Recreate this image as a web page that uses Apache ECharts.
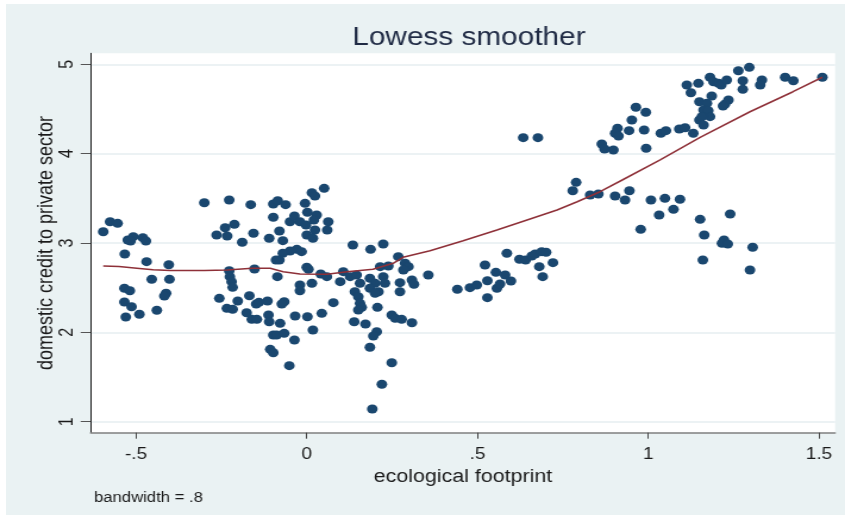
<!DOCTYPE html>
<html>
<head>
<meta charset="utf-8">
<title>Lowess smoother</title>
<script src="https://cdn.jsdelivr.net/npm/echarts@6/dist/echarts.min.js"></script>
<style>
  html, body { margin: 0; padding: 0; background: #ffffff; overflow: hidden; }
  #frame { position: relative; width: 845px; height: 521px; overflow: hidden; background: #ffffff; }
  /* graph region tint */
  #region { position: absolute; left: 6px; top: 4px; width: 839px; height: 511px; background: #eaf2f3; }
  /* the graph is drawn at Stata's aspect and widened to the page */
  #chart { position: absolute; left: 0; top: 0; width: 710px; height: 521px;
           transform: scaleX(1.19014); transform-origin: 0 0; }
</style>
</head>
<body>
<div id="frame">
  <div id="region"></div>
  <div id="chart"></div>
</div>
<script>
// ecological footprint (x) vs domestic credit to private sector (y)
const scatterPoints = [
  [-0.576, 3.238], [-0.554, 3.220], [-0.596, 3.126], [-0.524, 3.034], [-0.508, 3.071],
  [-0.516, 3.022], [-0.480, 3.059], [-0.471, 3.022], [-0.533, 2.877], [-0.469, 2.791],
  [-0.404, 2.757], [-0.454, 2.594], [-0.402, 2.594], [-0.534, 2.493], [-0.518, 2.466],
  [-0.412, 2.437], [-0.417, 2.407], [-0.534, 2.340], [-0.513, 2.287], [-0.530, 2.172],
  [-0.490, 2.202], [-0.439, 2.247],

  [-0.300, 3.451], [-0.227, 3.481], [-0.164, 3.429], [-0.098, 3.436], [-0.085, 3.473],
  [-0.062, 3.429], [-0.098, 3.288], [-0.049, 3.238], [-0.036, 3.302], [-0.020, 3.238],
  [-0.005, 3.444], [0.015, 3.563], [0.024, 3.526], [0.051, 3.612], [0.002, 3.344],
  [0.029, 3.313], [0.021, 3.257], [0.063, 3.238], [-0.002, 3.201], [0.024, 3.145],
  [0.060, 3.145], [0.000, 3.090], [0.018, 3.053], [-0.264, 3.090], [-0.212, 3.209],
  [-0.239, 3.171], [-0.233, 3.078], [-0.156, 3.109], [-0.189, 3.008], [-0.110, 3.053],
  [-0.080, 3.134], [-0.070, 3.026], [-0.029, 2.929], [-0.015, 2.903], [-0.049, 2.910],
  [-0.070, 2.885], [-0.080, 2.810], [-0.090, 2.810], [0.000, 2.728], [0.005, 2.706],
  [-0.227, 2.690], [-0.225, 2.623], [-0.220, 2.567], [-0.217, 2.504], [-0.153, 2.709],
  [-0.086, 2.623], [-0.020, 2.530], [-0.020, 2.466], [0.015, 2.549], [0.041, 2.653],
  [0.059, 2.623], [-0.256, 2.381], [-0.202, 2.351], [-0.168, 2.410], [-0.148, 2.317],
  [-0.140, 2.336], [-0.115, 2.351], [-0.066, 2.343], [-0.073, 2.317], [-0.234, 2.269],
  [-0.217, 2.258], [-0.176, 2.220], [-0.161, 2.146], [-0.146, 2.146], [-0.112, 2.194],
  [-0.110, 2.119], [-0.078, 2.101], [-0.034, 2.183], [0.002, 2.175], [0.044, 2.213],
  [0.018, 2.026], [-0.098, 1.970], [-0.088, 1.970], [-0.066, 1.989], [-0.036, 1.914],
  [-0.107, 1.810], [-0.098, 1.772], [-0.051, 1.627],

  [0.135, 2.978], [0.187, 2.929], [0.224, 2.989], [0.107, 2.679], [0.098, 2.567],
  [0.127, 2.623], [0.146, 2.642], [0.156, 2.549], [0.185, 2.605], [0.215, 2.735],
  [0.239, 2.743], [0.268, 2.847], [0.288, 2.773], [0.298, 2.735], [0.283, 2.698],
  [0.224, 2.623], [0.229, 2.549], [0.200, 2.549], [0.185, 2.493], [0.210, 2.455],
  [0.200, 2.437], [0.141, 2.455], [0.151, 2.399], [0.156, 2.325], [0.161, 2.280],
  [0.151, 2.250], [0.273, 2.556], [0.273, 2.455], [0.308, 2.586], [0.314, 2.538],
  [0.078, 2.332], [0.207, 2.280], [0.249, 2.194], [0.259, 2.157], [0.278, 2.146],
  [0.308, 2.108], [0.139, 2.119], [0.172, 2.093], [0.205, 2.007], [0.195, 1.959],
  [0.185, 1.833], [0.249, 1.660], [0.220, 1.419], [0.192, 1.142], [0.356, 2.642],

  [0.634, 4.179], [0.677, 4.179], [0.789, 3.679], [0.779, 3.585], [0.830, 3.537],
  [0.854, 3.548], [0.441, 2.482], [0.478, 2.500], [0.498, 2.530], [0.529, 2.388],
  [0.529, 2.578], [0.522, 2.754], [0.554, 2.672], [0.557, 2.493], [0.566, 2.541],
  [0.581, 2.642], [0.598, 2.575], [0.586, 2.885], [0.623, 2.818], [0.641, 2.810],
  [0.659, 2.854], [0.669, 2.877], [0.688, 2.903], [0.701, 2.896], [0.681, 2.735],
  [0.691, 2.623], [0.721, 2.780],

  [1.113, 4.768], [1.125, 4.682], [1.147, 4.787], [1.150, 4.581], [0.964, 4.519],
  [0.993, 4.463], [0.952, 4.377], [0.910, 4.284], [0.903, 4.228], [0.913, 4.198],
  [0.944, 4.257], [0.988, 4.265], [1.037, 4.228], [1.052, 4.257], [1.091, 4.276],
  [1.108, 4.290], [1.132, 4.228], [0.864, 4.108], [0.872, 4.052], [0.898, 4.041],
  [0.994, 4.060], [1.150, 4.377],

  [1.181, 4.855], [1.191, 4.805], [1.206, 4.787], [1.214, 4.768], [1.230, 4.824],
  [1.264, 4.928], [1.296, 4.966], [1.277, 4.816], [1.277, 4.720], [1.333, 4.824],
  [1.328, 4.768], [1.401, 4.855], [1.425, 4.816], [1.510, 4.855], [1.186, 4.645],
  [1.172, 4.564], [1.162, 4.489], [1.176, 4.481], [1.181, 4.414], [1.157, 4.414],
  [1.162, 4.321], [1.235, 4.600], [1.225, 4.556], [1.219, 4.533],

  [0.903, 3.526], [0.932, 3.481], [0.945, 3.585], [0.978, 3.153], [1.008, 3.481],
  [1.032, 3.313], [1.049, 3.500], [1.074, 3.377], [1.093, 3.489], [1.152, 3.265],
  [1.164, 3.090], [1.160, 2.810], [1.240, 3.325], [1.222, 3.034], [1.216, 2.997],
  [1.233, 2.989], [1.306, 2.952], [1.298, 2.698]
];

// lowess fit, bandwidth .8
const lowessCurve = [
  [-0.596, 2.743], [-0.550, 2.736], [-0.490, 2.715], [-0.450, 2.700], [-0.400, 2.692],
  [-0.300, 2.692], [-0.233, 2.698], [-0.160, 2.717], [-0.107, 2.717], [-0.069, 2.679],
  [-0.020, 2.653], [0.059, 2.650], [0.118, 2.679], [0.194, 2.706], [0.253, 2.773],
  [0.282, 2.840], [0.361, 2.914], [0.458, 3.026], [0.557, 3.146], [0.654, 3.269],
  [0.733, 3.369], [0.792, 3.462], [0.859, 3.574], [0.924, 3.705], [1.035, 3.929],
  [1.152, 4.183], [1.298, 4.469], [1.424, 4.693], [1.510, 4.855]
];

const xTickValues = [-0.5, 0, 0.5, 1, 1.5];
const yTickValues = [1, 2, 3, 4, 5];

const X_MIN = -0.6327, X_MAX = 1.5474;
const Y_MIN = 0.877, Y_MAX = 5.123;

const FONT = "'Liberation Sans', Arial, Helvetica, sans-serif";
const stataLabel = v => String(v).replace(/^(-?)0\./, '$1.');

const chart = echarts.init(document.getElementById('chart'), null, { renderer: 'canvas' });

chart.setOption({
  backgroundColor: 'transparent',
  animation: false,
  title: [
    {
      text: 'Lowess smoother',
      left: 389, top: 21, textAlign: 'center',
      textStyle: { fontFamily: FONT, fontSize: 25, fontWeight: 'normal', color: '#1f2a44' }
    },
    {
      text: 'bandwidth = .8',
      left: 74, top: 486,
      textStyle: { fontFamily: FONT, fontSize: 14, fontWeight: 'normal', color: '#1a1a1a' }
    }
  ],
  grid: {
    left: 76.2, right: 8.3, top: 53.3, bottom: 88.3,
    show: true, backgroundColor: '#ffffff', borderWidth: 0
  },
  xAxis: {
    type: 'value', min: X_MIN, max: X_MAX,
    name: 'ecological footprint', nameLocation: 'middle', nameGap: 24,
    nameTextStyle: { fontFamily: FONT, fontSize: 18, color: '#1a1a1a' },
    axisLine: { show: true, onZero: false, lineStyle: { color: '#808080', width: 1.5 } },
    axisTick: { show: true, length: 6, customValues: xTickValues, lineStyle: { color: '#444', width: 1 } },
    axisLabel: { customValues: xTickValues, margin: 14, fontFamily: FONT, fontSize: 16, color: '#1a1a1a', formatter: stataLabel },
    splitLine: { show: false }
  },
  yAxis: {
    type: 'value', min: Y_MIN, max: Y_MAX,
    name: 'domestic credit to private sector', nameLocation: 'middle', nameGap: 28.5,
    nameTextStyle: { fontFamily: FONT, fontSize: 18, color: '#1a1a1a' },
    axisLine: { show: true, onZero: false, lineStyle: { color: '#111', width: 1 } },
    axisTick: { show: true, length: 8.4, customValues: yTickValues, lineStyle: { color: '#555', width: 1 } },
    axisLabel: { show: false },
    splitLine: { show: true, lineStyle: { color: '#e6eef1', width: 1.5 } }
  },
  series: [
    {
      name: 'domestic credit to private sector',
      type: 'scatter',
      data: scatterPoints,
      symbol: 'circle',
      symbolSize: 9,
      itemStyle: { color: '#1a476f', opacity: 1 },
      z: 2
    },
    {
      name: 'lowess',
      type: 'line',
      data: lowessCurve,
      showSymbol: false,
      smooth: false,
      lineStyle: { color: '#8e3038', width: 1.5 },
      z: 3
    }
  ]
});

// vertical (rotated) y tick labels, placed through the axis scale
chart.setOption({
  graphic: yTickValues.map(v => {
    const p = chart.convertToPixel({ gridIndex: 0 }, [X_MIN, v]);
    return {
      type: 'text',
      x: p[0] - 20,
      y: p[1],
      rotation: Math.PI / 2,
      silent: true,
      style: {
        text: stataLabel(v),
        fontFamily: FONT, fontSize: 16, fill: '#1a1a1a',
        align: 'center', verticalAlign: 'middle'
      }
    };
  })
});
</script>
</body>
</html>
